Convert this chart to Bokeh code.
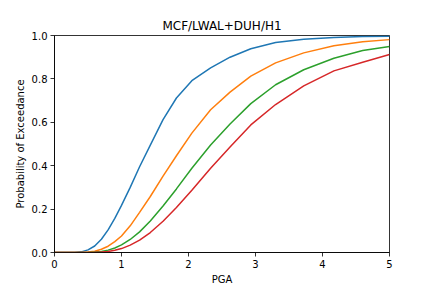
from bokeh.plotting import figure
from bokeh.models import Range1d, FixedTicker, NumeralTickFormatter
from bokeh.embed import file_html
from bokeh.resources import INLINE

# PGA sample points shared by all fragility curves
pga = [0.0, 0.2, 0.3, 0.4, 0.5, 0.6, 0.7, 0.8, 0.9, 1.0, 1.13, 1.27, 1.43,
       1.62, 1.82, 2.05, 2.33, 2.62, 2.93, 3.3, 3.72, 4.17, 4.6, 5.0]

# probability of exceedance for each damage state
ds1 = [0.0, 0.0, 0.0004, 0.003, 0.012, 0.030, 0.061, 0.104, 0.157, 0.217, 0.300,
       0.395, 0.495, 0.612, 0.712, 0.792, 0.851, 0.900, 0.939, 0.968, 0.983,
       0.991, 0.995, 0.997]
ds2 = [0.0, 0.0, 0.0, 0.0004, 0.002, 0.006, 0.015, 0.029, 0.050, 0.076, 0.123,
       0.185, 0.258, 0.352, 0.446, 0.550, 0.658, 0.739, 0.813, 0.874, 0.920,
       0.953, 0.971, 0.981]
ds3 = [0.0, 0.0, 0.0, 0.0, 0.0005, 0.002, 0.005, 0.011, 0.021, 0.035, 0.060,
       0.095, 0.145, 0.214, 0.293, 0.388, 0.495, 0.592, 0.686, 0.773, 0.842,
       0.895, 0.931, 0.949]
ds4 = [0.0, 0.0, 0.0, 0.0, 0.0, 0.0007, 0.002, 0.005, 0.010, 0.018, 0.034,
       0.057, 0.092, 0.144, 0.207, 0.287, 0.388, 0.486, 0.588, 0.682, 0.768,
       0.837, 0.877, 0.912]

series = [ds1, ds2, ds3, ds4]
colors = ["#1f77b4", "#ff7f0e", "#2ca02c", "#d62728"]

x_ticks = [0, 1, 2, 3, 4, 5]
y_ticks = [0.0, 0.2, 0.4, 0.6, 0.8, 1.0]

p = figure(width=432, height=288, output_backend="svg", toolbar_location=None,
           x_range=Range1d(0, 5), y_range=Range1d(0, 1),
           min_border_left=54, min_border_right=43,
           min_border_top=35, min_border_bottom=36,
           title="MCF/LWAL+DUH/H1")

for ys, c in zip(series, colors):
    p.line(pga, ys, line_color=c, line_width=1.5)

p.title.text_font = "DejaVu Sans"
p.title.text_font_size = "12px"
p.title.text_font_style = "normal"
p.title.align = "center"
p.title.text_color = "black"
p.title.standoff = 6

p.xgrid.visible = False
p.ygrid.visible = False
p.outline_line_color = "black"
p.outline_line_width = 0.8
p.outline_line_alpha = 1.0
p.background_fill_color = "white"
p.border_fill_color = "white"

p.xaxis.ticker = FixedTicker(ticks=x_ticks)
p.yaxis.ticker = FixedTicker(ticks=y_ticks)
p.yaxis.formatter = NumeralTickFormatter(format="0.0")
p.xaxis.axis_label = "PGA"
p.yaxis.axis_label = "Probability of Exceedance"

for ax in (p.xaxis, p.yaxis):
    ax.axis_line_color = "black"
    ax.axis_line_width = 0.8
    ax.major_tick_line_color = "black"
    ax.major_tick_line_width = 0.8
    ax.major_tick_out = 4
    ax.major_tick_in = 0
    ax.minor_tick_line_color = None
    ax.major_label_text_font = "DejaVu Sans"
    ax.major_label_text_font_size = "10px"
    ax.major_label_text_color = "black"
    ax.axis_label_text_font = "DejaVu Sans"
    ax.axis_label_text_font_size = "10px"
    ax.axis_label_text_font_style = "normal"
    ax.axis_label_text_color = "black"
    ax.major_label_standoff = 3

p.xaxis.axis_label_standoff = 3
p.yaxis.axis_label_standoff = 3

open("out.html", "w").write(file_html(p, INLINE))
